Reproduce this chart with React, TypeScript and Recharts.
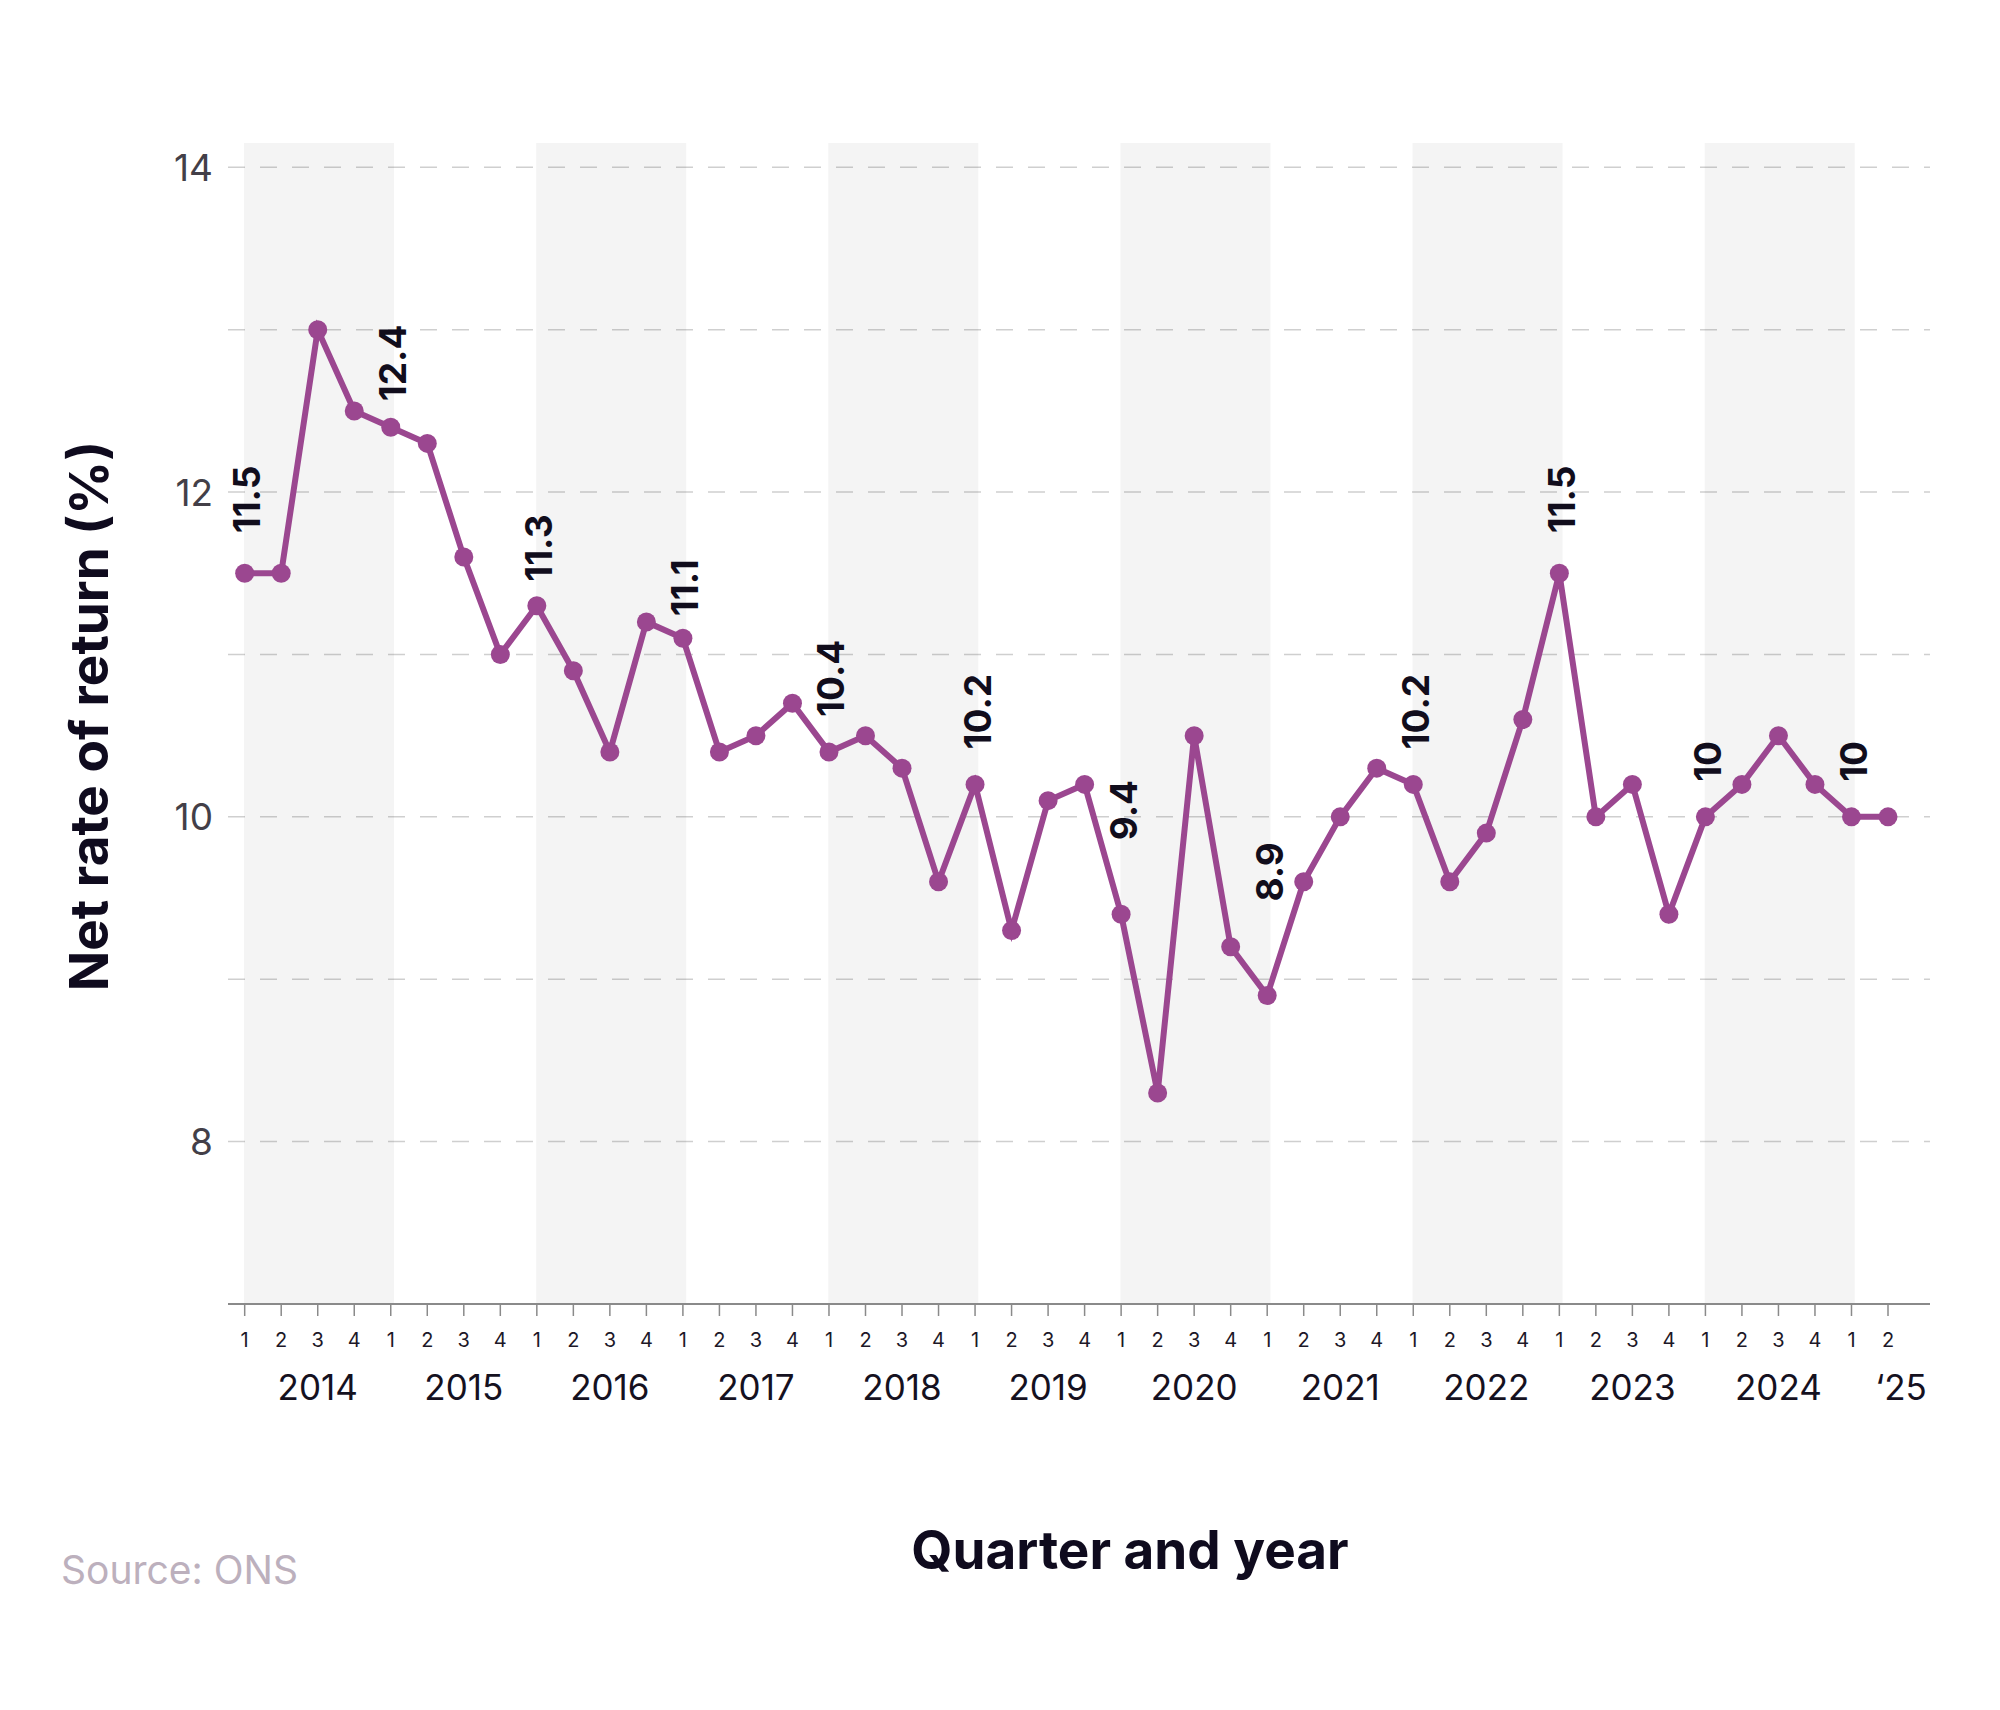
import React from "react";
import {
  LineChart,
  Line,
  XAxis,
  YAxis,
  CartesianGrid,
  ReferenceArea,
} from "recharts";

// Net rate of return by quarter, 2014 Q1 to 2025 Q2
const YEARS = [
  "2014",
  "2015",
  "2016",
  "2017",
  "2018",
  "2019",
  "2020",
  "2021",
  "2022",
  "2023",
  "2024",
  "\u201825",
];
const QUARTERS = ["1", "2", "3", "4"];
const VALUES = [
  11.5, 11.5, 13.0, 12.5,
  12.4, 12.3, 11.6, 11.0,
  11.3, 10.9, 10.4, 11.2,
  11.1, 10.4, 10.5, 10.7,
  10.4, 10.5, 10.3, 9.6,
  10.2, 9.3, 10.1, 10.2,
  9.4, 8.3, 10.5, 9.2,
  8.9, 9.6, 10.0, 10.3,
  10.2, 9.6, 9.9, 10.6,
  11.5, 10.0, 10.2, 9.4,
  10.0, 10.2, 10.5, 10.2,
  10.0, 10.0,
];
const Y_TICKS = [8, 9, 10, 11, 12, 13, 14];

const data = VALUES.map((v, i) => ({ i, value: v }));
const lastIndex = VALUES.length - 1;

const PURPLE = "#9b4790";
const FONT = "Inter, 'Noto Sans', sans-serif";
const Y_MAX = 14.15;

// label distance from its point, tuned where the original nudged them
const LABEL_GAP: Record<number, number> = {
  0: 40,
  4: 26,
  8: 24,
  12: 22,
  24: 74,
  28: 94,
  36: 40,
};

const YTick = (props: any) => {
  const { x, y, payload } = props;
  if (payload.value % 2 !== 0) return null;
  return (
    <text
      x={x}
      y={y + 13.5}
      textAnchor="end"
      fontSize={37}
      fontFamily={FONT}
      fill="#433f48"
    >
      {payload.value}
    </text>
  );
};

const XTick = (props: any) => {
  const { x, y, payload } = props;
  const i = payload.value;
  const yearIdx = Math.floor(i / 4);
  const yearTick = Math.min(yearIdx * 4 + 2, lastIndex);
  const shifted = yearTick !== yearIdx * 4 + 2;
  return (
    <g>
      <text
        x={x}
        y={y + 29}
        textAnchor="middle"
        fontSize={20}
        fontFamily={FONT}
        fill="#1d1828"
      >
        {QUARTERS[i % 4]}
      </text>
      {i === yearTick && (
        <text
          x={shifted ? x + 13 : x}
          y={y + 82}
          textAnchor="middle"
          fontSize={35}
          fontFamily={FONT}
          fill="#15111f"
        >
          {YEARS[yearIdx]}
        </text>
      )}
    </g>
  );
};

const Dot = (props: any) => {
  const { cx, cy, index, payload } = props;
  const showLabel = index % 4 === 0;
  const gap = LABEL_GAP[index] ?? 35;
  const ly = cy - gap;
  return (
    <g>
      <circle cx={cx} cy={cy} r={9.5} fill={PURPLE} />
      {showLabel && (
        <text
          x={cx + 2}
          y={ly}
          transform={`rotate(-90 ${cx + 2} ${ly})`}
          textAnchor="start"
          dominantBaseline="central"
          fontSize={37}
          fontWeight={700}
          fontFamily={FONT}
          fill="#110d1c"
        >
          {payload.value}
        </text>
      )}
    </g>
  );
};

export default function App() {
  return (
    <div
      style={{
        position: "absolute",
        left: 0,
        top: 0,
        width: 2000,
        height: 1710,
        background: "#fff",
      }}
    >
      <LineChart
        width={2000}
        height={1710}
        data={data}
        margin={{ top: 143, right: 70, left: 128, bottom: 306 }}
      >
        <CartesianGrid
          vertical={false}
          horizontalValues={Y_TICKS}
          stroke="#cfcfcf"
          strokeWidth={1.5}
          strokeDasharray="17 15"
        />
        {YEARS.filter((_, k) => k % 2 === 0 && k * 4 < lastIndex).map(
          (yr, n) => (
            <ReferenceArea
              key={yr}
              x1={n * 8 - 0.02}
              x2={n * 8 + 4.09}
              y1={7}
              y2={Y_MAX}
              fill="#000"
              fillOpacity={0.043}
              stroke="none"
            />
          )
        )}
        <XAxis
          dataKey="i"
          type="number"
          domain={[-0.457, 46.15]}
          allowDataOverflow
          ticks={data.map((d) => d.i)}
          interval={0}
          height={100}
          tickSize={12}
          tickMargin={2}
          axisLine={{ stroke: "#8a8a8a", strokeWidth: 2 }}
          tickLine={{ stroke: "#8a8a8a", strokeWidth: 1.5 }}
          tick={<XTick />}
        />
        <YAxis
          type="number"
          domain={[7, Y_MAX]}
          allowDataOverflow
          ticks={Y_TICKS}
          interval={0}
          width={100}
          axisLine={false}
          tickLine={false}
          tickSize={0}
          tickMargin={15}
          tick={<YTick />}
        />
        <Line
          dataKey="value"
          type="linear"
          stroke={PURPLE}
          strokeWidth={6}
          dot={(p: any) => <Dot {...p} key={`d-${p.index}`} />}
          activeDot={false}
          isAnimationActive={false}
        />
      </LineChart>
      <svg
        width={2000}
        height={1710}
        style={{ position: "absolute", left: 0, top: 0, pointerEvents: "none" }}
      >
        <text
          x={108}
          y={716}
          transform="rotate(-90 108 716)"
          textAnchor="middle"
          fontSize={53}
          fontWeight={700}
          fontFamily={FONT}
          fill="#0f0b1e"
        >
          Net rate of return (%)
        </text>
        <text
          x={1130}
          y={1569}
          textAnchor="middle"
          fontSize={53}
          fontWeight={700}
          fontFamily={FONT}
          fill="#0f0b1e"
        >
          Quarter and year
        </text>
        <text
          x={61}
          y={1584}
          fontSize={39}
          fontFamily={FONT}
          fill="#bcb0bd"
        >
          Source: ONS
        </text>
      </svg>
    </div>
  );
}
